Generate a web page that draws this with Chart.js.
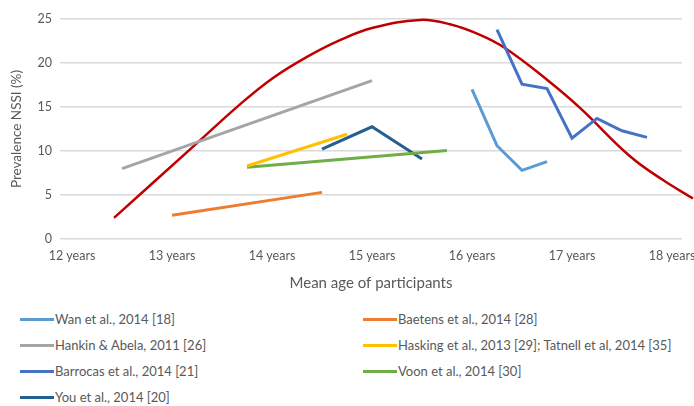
<!DOCTYPE html>
<html>
<head>
<meta charset="utf-8">
<script src="https://cdn.jsdelivr.net/npm/chart.js@4"></script>
<style>
  body { margin: 0; background: #fff; width: 694px; height: 406px; overflow: hidden; position: relative; font-family: Lato, "Open Sans", sans-serif; }
  #wrap { position: absolute; left: 0; top: 0; width: 730px; height: 296px; }
  #legend { position: absolute; left: 0; top: 0; }
  .item { position: absolute; display: flex; align-items: center; font-size: 13px; color: #595959; white-space: nowrap; }
  .item span.sw { display: inline-block; width: 34px; height: 3px; margin-right: 1px; }
</style>
</head>
<body>
<div id="wrap"><canvas id="chart"></canvas></div>
<div id="legend"></div>
<script>
const ageTicks = [12, 13, 14, 15, 16, 17, 18];
const tickLabels = ['12 years', '13 years', '14 years', '15 years', '16 years', '17 years', '18 years'];

// study series: [mean age, prevalence %]
const wan = [[16, 17.0], [16.25, 10.6], [16.5, 7.8], [16.75, 8.8]];
const baetens = [[13, 2.7], [14.5, 5.3]];
const hankin = [[12.5, 8.0], [15, 18.0]];
const hasking = [[13.75, 8.3], [14.75, 11.9]];
const barrocas = [[16.25, 23.8], [16.5, 17.6], [16.75, 17.1], [17, 11.45], [17.25, 13.7], [17.5, 12.3], [17.75, 11.55]];
const voon = [[13.75, 8.15], [15.75, 10.05]];
const you = [[14.5, 10.2], [15, 12.75], [15.5, 9.1]];

// red trend curve drawn over the chart
const trend = [[12.42, 2.4], [13.25, 10.9], [13.68, 15.3], [14.01, 18.3], [14.35, 20.7], [14.68, 22.6], [15.01, 24.0],
  [15.48, 24.9], [15.78, 24.4], [16.08, 23.2], [16.33, 21.7], [16.75, 18.1], [17.08, 14.9], [17.58, 9.4], [17.91, 6.7], [18.21, 4.6]];

const toXY = arr => arr.map(p => ({ x: p[0], y: p[1] }));

function series(label, data, color) {
  return { label: label, data: toXY(data), borderColor: color, backgroundColor: color, borderWidth: 3, pointRadius: 0, tension: 0, fill: false };
}

const datasets = [
  series('Wan et al., 2014 [18]', wan, '#5b9bd5'),
  series('Baetens et al., 2014 [28]', baetens, '#ed7d31'),
  series('Hankin & Abela, 2011 [26]', hankin, '#a5a5a5'),
  series('Hasking et al., 2013 [29]; Tatnell et al, 2014 [35]', hasking, '#ffc000'),
  series('Barrocas et al., 2014 [21]', barrocas, '#4472c4'),
  series('Voon et al., 2014 [30]', voon, '#70ad47'),
  series('You et al., 2014 [20]', you, '#255e91'),
  { label: '', data: toXY(trend), borderColor: '#c00000', borderWidth: 2.5, pointRadius: 0, tension: 0.4, clip: false, fill: false }
];

const grey = '#595959';
const chart = new Chart(document.getElementById('chart'), {
  type: 'line',
  data: { datasets: datasets },
  options: {
    responsive: true,
    maintainAspectRatio: false,
    animation: false,
    layout: { padding: { top: 19, right: 48, bottom: 4, left: 0 } },
    plugins: { legend: { display: false }, tooltip: { enabled: false } },
    scales: {
      x: {
        type: 'linear',
        min: 11.88,
        max: 18.1,
        afterBuildTicks: s => { s.ticks = ageTicks.map(v => ({ value: v })); },
        ticks: { color: grey, font: { family: 'Lato', size: 12.5 }, padding: 9, maxRotation: 0,
          callback: v => tickLabels[ageTicks.indexOf(v)] },
        grid: { display: false, drawTicks: false },
        border: { display: false },
        title: { display: true, text: 'Mean age of participants', color: grey, font: { family: 'Lato', size: 15 }, padding: { top: 2, bottom: 0 } }
      },
      y: {
        min: 0,
        max: 25,
        ticks: { stepSize: 5, color: grey, font: { family: 'Lato', size: 12.5 }, padding: 8 },
        grid: { color: '#d9d9d9', lineWidth: 1.5, drawTicks: false },
        border: { display: false },
        title: { display: true, text: 'Prevalence NSSI (%)', color: grey, font: { family: 'Lato', size: 13.5 }, padding: { top: 9, bottom: 0 } },
        afterFit: s => { s.width = 60; }
      }
    }
  }
});

// legend in two columns below the chart
const legendPos = [[20, 320], [363, 320], [20, 346], [363, 346], [20, 372], [363, 372], [20, 398]];
const legendEl = document.getElementById('legend');
chart.data.datasets.filter(d => d.label).forEach((d, i) => {
  const el = document.createElement('div');
  el.className = 'item';
  el.style.left = legendPos[i][0] + 'px';
  el.style.top = (legendPos[i][1] - 9) + 'px';
  el.innerHTML = '<span class="sw" style="background:' + d.borderColor + '"></span>';
  el.appendChild(document.createTextNode(d.label));
  legendEl.appendChild(el);
});
</script>
</body>
</html>
